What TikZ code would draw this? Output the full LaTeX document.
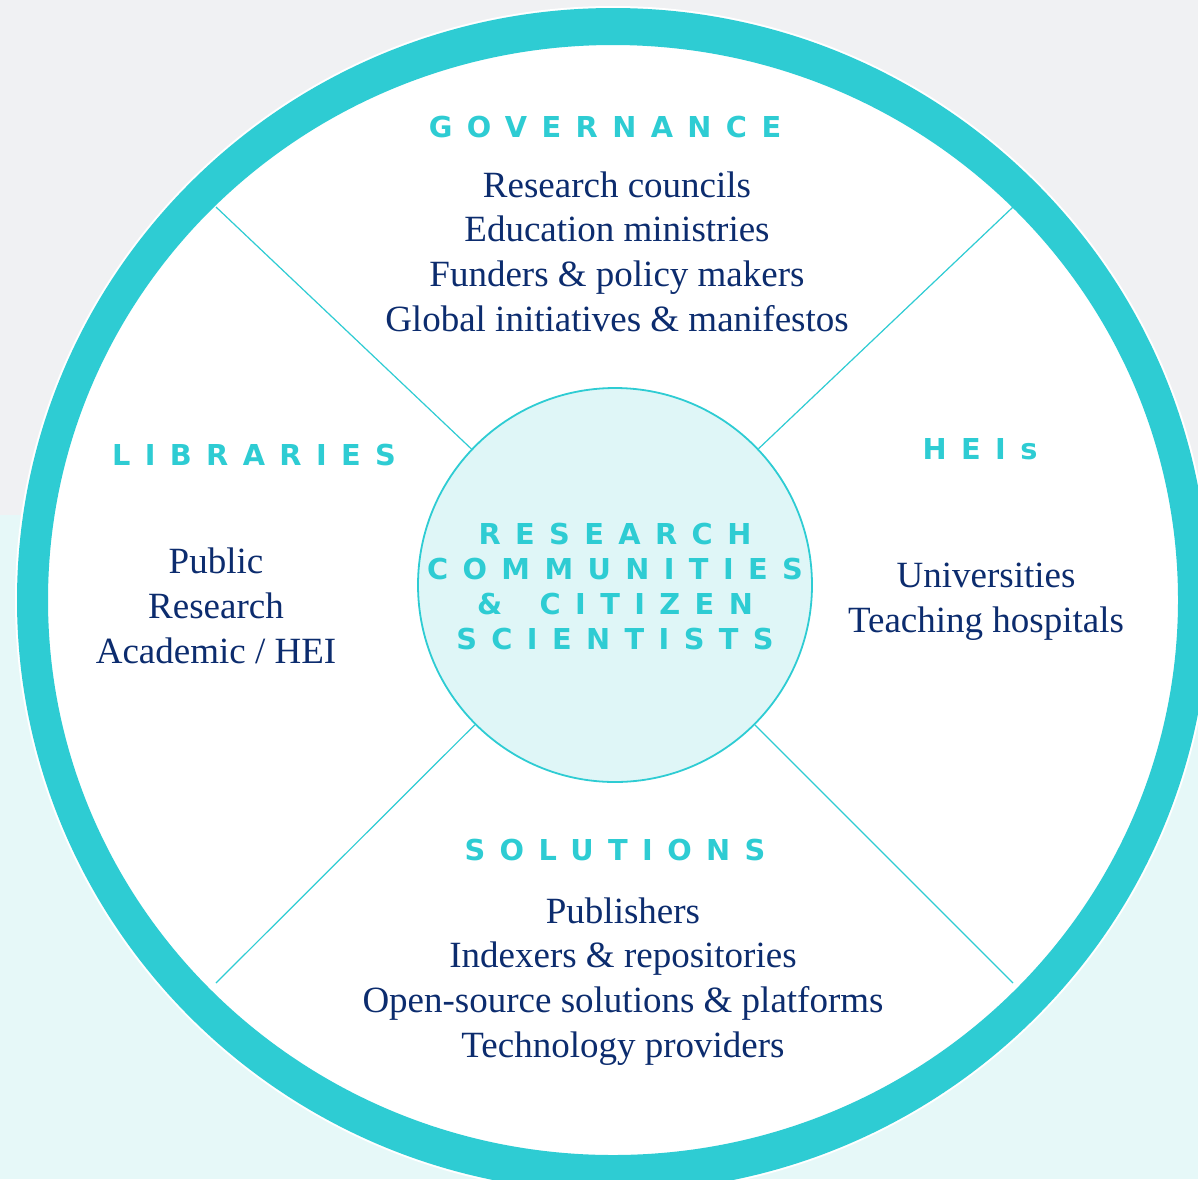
\documentclass[tikz,border=0pt]{standalone}
\usepackage{fontspec}
\setmainfont{Liberation Serif}
\newfontfamily\headfont[LetterSpace=50]{DejaVu Sans Bold}
\usepackage{tikz}
\usetikzlibrary{positioning}
\definecolor{ringcyan}{RGB}{46,204,211}
\definecolor{navy}{RGB}{12,44,110}
\definecolor{corefill}{RGB}{223,246,247}
\definecolor{bggray}{RGB}{240,241,243}
\definecolor{bgcyan}{RGB}{230,248,248}
\newcommand{\drawH}[4]{
    \node[head, anchor=base] (#3) at (#1,#2) {#4};
}
\newcommand{\drawB}[4]{
    \node[body, anchor=base] (#3) at (#1,#2) {#4};
}

\begin{document}
\begin{tikzpicture}[x=0.5pt, y=-0.5pt,
    head/.style={font=\headfont\fontsize{14.4}{17.5}\selectfont, text=ringcyan, inner sep=0pt, align=center},
    body/.style={font=\fontsize{18.5}{22.3}\selectfont, text=navy, inner sep=0pt, align=center},
    spoke/.style={draw=ringcyan, line width=0.6pt}]
        \useasboundingbox (0,0) rectangle (1198,1179);
        % Background
        \fill[bggray] (0,0) rectangle (1198,515);
        \fill[bgcyan] (0,515) rectangle (1198,1179);
        % Ring
        \fill[white] (613,600) ellipse [x radius=598, y radius=594];
        \fill[ringcyan, even odd rule] (613,600) ellipse [x radius=596, y radius=592]
            (613,600) ellipse [x radius=565, y radius=555];
        % Spokes
        \coordinate (nw) at (216,207);
        \coordinate (ne) at (1013,207);
        \coordinate (sw) at (216,983);
        \coordinate (se) at (1013,983);
        \node[circle, draw=ringcyan, line width=0.9pt, fill=corefill, minimum size=197pt, inner sep=0pt] (core) at (615,585) {};
        \foreach \c in {nw, ne, sw, se}
            \draw[spoke] (core) -- (\c);
        % Centre text (base = last line)
        \node[head, anchor=base] (coretext) at (615,649) {RESEARCH\\COMMUNITIES\\\&\hspace{6.5pt} CITIZEN\\SCIENTISTS};
        % Headings
        \drawH{605}{137}{gov}{GOVERNANCE}
        \drawH{254}{465}{lib}{LIBRARIES}
        \drawH{980}{459}{hei}{HEIs}
        \drawH{615}{860}{sol}{SOLUTIONS}
        % Lists (base = last line)
        \drawB{617}{331}{govlist}{Research councils\\Education ministries\\Funders \& policy makers\\Global initiatives \& manifestos}
        \drawB{216}{663}{liblist}{Public\\Research\\Academic / HEI}
        \drawB{986}{632}{heilist}{Universities\\Teaching hospitals}
        \drawB{623}{1057}{sollist}{Publishers\\Indexers \& repositories\\Open-source solutions \& platforms\\Technology providers}
\end{tikzpicture}
\end{document}
